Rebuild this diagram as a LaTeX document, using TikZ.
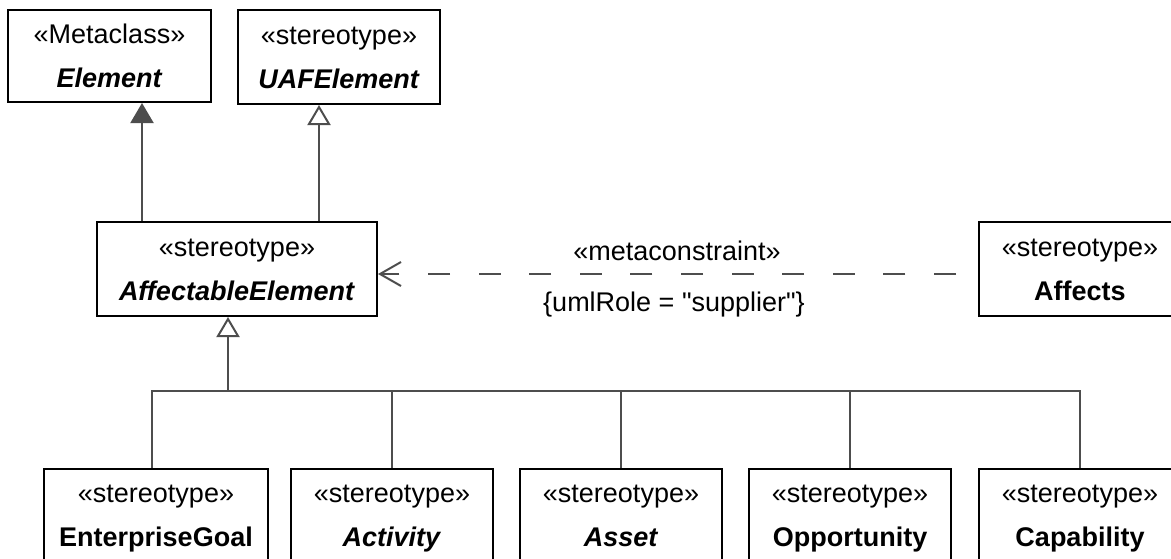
\documentclass[tikz,border=0pt]{standalone}
\usepackage{fontspec}
\setmainfont{Liberation Sans}
\usetikzlibrary{arrows.meta}
\definecolor{conn}{HTML}{4D4D4D}
\newcommand{\bs}{\rule[-13pt]{0pt}{44pt}}
\tikzset{
  umlbox/.style={draw=black, line width=2pt, rectangle, inner sep=0pt, align=center,
    font=\fontsize{27}{44}\selectfont, fill=white},
  connline/.style={draw=conn, line width=2pt},
  treeline/.style={draw=conn, line width=1.7pt},
  extarrow/.style={connline, -{Triangle[length=20pt,width=23pt,fill=conn]}},
  genarrow/.style={connline, -{Triangle[open,length=20pt,width=23pt,fill=white]}},
  deparrow/.style={connline, dash pattern=on 22pt off 28.6pt, dash phase=28.6pt,
    -{Straight Barb[length=21pt,width=24pt]}},
  lbl/.style={font=\fontsize{27}{32}\selectfont, inner sep=0pt}
}
\begin{document}
\begin{tikzpicture}[x=1pt,y=-1pt]
\useasboundingbox (0,0) rectangle (1171,558);
\clip (0,0) rectangle (1171,558);
\node[umlbox, minimum width=203pt, minimum height=92pt] (el) at (109.5,56) {\bs«Metaclass»\\\bs\textbf{\textit{Element}}};
\node[umlbox, minimum width=202pt, minimum height=94pt] (uaf) at (339,57) {\bs«stereotype»\\\bs\textbf{\textit{UAFElement}}};
\node[umlbox, minimum width=280pt, minimum height=94pt] (ae) at (237,269) {\bs«stereotype»\\\bs\textbf{\textit{AffectableElement}}};
\node[umlbox, minimum width=202pt, minimum height=94pt] (aff) at (1080,269) {\bs«stereotype»\\\bs\textbf{Affects}};
\node[umlbox, minimum width=224pt, minimum height=92pt] (eg) at (156,515) {\bs«stereotype»\\\bs\textbf{EnterpriseGoal}};
\node[umlbox, minimum width=202pt, minimum height=92pt] (act) at (392,515) {\bs«stereotype»\\\bs\textbf{\textit{Activity}}};
\node[umlbox, minimum width=202pt, minimum height=92pt] (ast) at (621,515) {\bs«stereotype»\\\bs\textbf{\textit{Asset}}};
\node[umlbox, minimum width=202pt, minimum height=92pt] (opp) at (850,515) {\bs«stereotype»\\\bs\textbf{Opportunity}};
\node[umlbox, minimum width=202pt, minimum height=92pt] (cap) at (1080,515) {\bs«stereotype»\\\bs\textbf{Capability}};
% generalizations upward
\draw[extarrow] (ae.north -| 142,0) -- (el.south -| 142,0);
\draw[genarrow] (ae.north -| 319,0) -- (uaf.south -| 319,0);
% tree
\coordinate (j) at (228,391);
\draw[genarrow] (j) -- (ae.south -| j);
\draw[treeline] ([xshift=-4pt]eg.north) |- (j) -| (cap.north);
\draw[treeline] (act.north) -- (act.north |- j);
\draw[treeline] (ast.north) -- (ast.north |- j);
\draw[treeline] (opp.north) -- (opp.north |- j);
% metaconstraint
\draw[deparrow] ([yshift=-5pt]aff.west) -- ([yshift=-5pt]ae.east);
\node[lbl] (mc) at (677,251) {«metaconstraint»};
\node[lbl] (role) at (674,304.5) {\{umlRole = \textquotedbl supplier\textquotedbl\}};
\end{tikzpicture}
\end{document}
